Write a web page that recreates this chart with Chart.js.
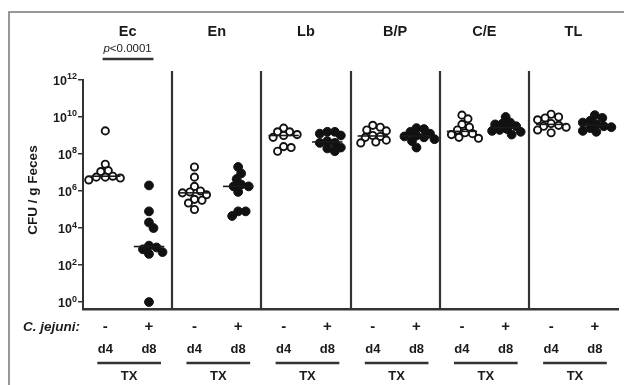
<!DOCTYPE html>
<html>
<head>
<meta charset="utf-8">
<script src="https://cdn.jsdelivr.net/npm/chart.js@4.4.1/dist/chart.umd.min.js"></script>
<style>
  html, body { margin: 0; padding: 0; background: #fff; }
  #wrap { width: 624px; height: 385px; }
</style>
</head>
<body>
<div id="wrap"><canvas id="cfuChart" width="624" height="385"></canvas></div>
<script>
// Bacterial groups, one panel each
const panels = ['Ec', 'En', 'Lb', 'B/P', 'C/E', 'TL'];

// log10 CFU / g feces
// d4 = before C. jejuni (open), d8 = after C. jejuni (filled)
const ecD4 = [9.25, 7.45, 7.1, 7.05, 6.8, 6.75, 6.75, 6.7, 6.6];
const ecD8 = [6.3, 4.9, 4.3, 4.0, 3.05, 2.95, 2.85, 2.7, 2.6, 0];
const enD4 = [7.3, 6.75, 6.25, 6.0, 5.95, 5.9, 5.8, 5.55, 5.5, 5.35, 5.0];
const enD8 = [7.3, 6.95, 6.65, 6.35, 6.25, 6.25, 5.95, 4.9, 4.9, 4.65];
const lbD4 = [9.4, 9.2, 9.2, 9.05, 9.0, 8.9, 8.4, 8.35, 8.15];
const lbD8 = [9.2, 9.2, 9.1, 9.0, 8.7, 8.6, 8.6, 8.35, 8.3, 8.15];
const bpD4 = [9.55, 9.45, 9.3, 9.25, 9.0, 8.95, 8.9, 8.75, 8.65, 8.6];
const bpD8 = [9.4, 9.35, 9.2, 9.1, 9.0, 8.95, 8.9, 8.8, 8.7, 8.35];
const ceD4 = [10.1, 9.9, 9.6, 9.45, 9.3, 9.15, 9.1, 9.05, 8.9, 8.85];
const ceD8 = [10.0, 9.7, 9.65, 9.6, 9.5, 9.35, 9.3, 9.25, 9.2, 9.05];
const tlD4 = [10.15, 10.0, 9.95, 9.85, 9.65, 9.55, 9.5, 9.45, 9.3, 9.15];
const tlD8 = [10.1, 9.95, 9.8, 9.7, 9.6, 9.5, 9.45, 9.4, 9.25, 9.2];

const d4Groups = [ecD4, enD4, lbD4, bpD4, ceD4, tlD4];
const d8Groups = [ecD8, enD8, lbD8, bpD8, ceD8, tlD8];

// Axis / label text
const yTickExponents = [0, 2, 4, 6, 8, 10, 12];
const infectionSigns = ['-', '+'];
const dayLabels = ['d4', 'd8'];
const treatmentLabel = 'TX';
const pValueText = '<0.0001';

const FONT = '"Liberation Sans", Arial, sans-serif';
const INK = '#1a1a1a';

// Rough pixel scale, only used to spread overlapping dots (beeswarm)
const PX_PER_PANEL = 89;
const PX_PER_DECADE = 18.5;
const DOT_GAP = 7;

function median(values) {
    const s = values.slice().sort((a, b) => a - b);
    const m = Math.floor(s.length / 2);
    return s.length % 2 ? s[m] : (s[m - 1] + s[m]) / 2;
}

// Spread points sideways so they don't sit on top of each other
function swarm(values, center) {
    const placed = [];
    const sorted = values.slice().sort((a, b) => b - a);
    return sorted.map(v => {
        const py = v * PX_PER_DECADE;
        let off = 0;
        for (let k = 0; k < 60; k++) {
            const cand = k === 0 ? 0 : (k % 2 ? 1 : -1) * Math.ceil(k / 2) * 1.5;
            const clash = placed.some(p => {
                const dx = p.px - cand, dy = p.py - py;
                return dx * dx + dy * dy < DOT_GAP * DOT_GAP;
            });
            if (!clash) { off = cand; break; }
        }
        placed.push({ px: off, py });
        return { x: center + off / PX_PER_PANEL, y: Math.pow(10, v) };
    });
}

const COL_OFFSET = [0.25, 0.74];

const datasets = [];
panels.forEach((name, i) => {
    [d4Groups[i], d8Groups[i]].forEach((vals, j) => {
        const c = i + COL_OFFSET[j];
        const m = Math.pow(10, median(vals));
        datasets.push({
            type: 'line',
            data: [{ x: c - 0.17, y: m }, { x: c + 0.17, y: m }],
            borderColor: INK,
            borderWidth: 1.6,
            pointRadius: 0,
            order: 0
        });
        datasets.push({
            type: 'scatter',
            data: swarm(vals, c),
            pointStyle: 'circle',
            pointRadius: j === 0 ? 3.6 : 4.4,
            backgroundColor: j === 0 ? '#fff' : '#111',
            borderColor: '#111',
            borderWidth: j === 0 ? 1.9 : 1,
            order: 1
        });
    });
});

// Frame, panel dividers and all the text around the plot
const decorations = {
    id: 'decorations',
    afterDraw(chart) {
        const { ctx, chartArea, scales } = chart;
        const xs = scales.x, ys = scales.y;
        ctx.save();

        // outer frame (top + left only, rest is cropped)
        ctx.strokeStyle = '#777';
        ctx.lineWidth = 1.5;
        ctx.beginPath();
        ctx.moveTo(9, 385);
        ctx.lineTo(9, 12);
        ctx.lineTo(624, 12);
        ctx.stroke();

        // panel separators
        ctx.strokeStyle = '#333';
        ctx.lineWidth = 2.2;
        for (let i = 1; i < panels.length; i++) {
            const x = Math.round(xs.getPixelForValue(i));
            ctx.beginPath();
            ctx.moveTo(x, chartArea.top - 9);
            ctx.lineTo(x, chartArea.bottom);
            ctx.stroke();
        }

        ctx.fillStyle = INK;
        ctx.textAlign = 'center';
        ctx.textBaseline = 'middle';

        // panel titles
        ctx.font = `bold 14.5px ${FONT}`;
        panels.forEach((name, i) => {
            ctx.fillText(name, xs.getPixelForValue(i + 0.5), 32);
        });

        // p value over Ec
        const ecMid = xs.getPixelForValue(0.5);
        ctx.font = `italic 11.5px ${FONT}`;
        const pW = ctx.measureText('p').width;
        ctx.font = `11.5px ${FONT}`;
        const restW = ctx.measureText(pValueText).width;
        const px = ecMid - (pW + restW) / 2;
        ctx.textAlign = 'left';
        ctx.font = `italic 11.5px ${FONT}`;
        ctx.fillText('p', px, 49);
        ctx.font = `11.5px ${FONT}`;
        ctx.fillText(pValueText, px + pW, 49);
        ctx.strokeStyle = '#333';
        ctx.lineWidth = 2.5;
        ctx.beginPath();
        ctx.moveTo(xs.getPixelForValue(0.22), 59);
        ctx.lineTo(xs.getPixelForValue(0.79), 59);
        ctx.stroke();

        // y tick labels 10^n
        yTickExponents.forEach(e => {
            const y = ys.getPixelForValue(Math.pow(10, e));
            const sup = String(e);
            ctx.font = `bold 9px ${FONT}`;
            const supW = ctx.measureText(sup).width;
            const right = chartArea.left - 6;
            ctx.textAlign = 'right';
            ctx.fillText(sup, right, y - 3);
            ctx.font = `bold 12.5px ${FONT}`;
            ctx.fillText('10', right - supW, y + 2);
        });

        // y axis title
        ctx.save();
        ctx.translate(33, 190);
        ctx.rotate(-Math.PI / 2);
        ctx.textAlign = 'center';
        ctx.font = `bold 13.5px ${FONT}`;
        ctx.fillText('CFU / g Feces', 0, 0);
        ctx.restore();

        // bottom labels
        ctx.textAlign = 'right';
        ctx.font = `italic bold 13.5px ${FONT}`;
        ctx.fillText('C. jejuni:', 80, 327);
        ctx.textAlign = 'center';
        panels.forEach((name, i) => {
            COL_OFFSET.forEach((off, j) => {
                const x = xs.getPixelForValue(i + off);
                ctx.font = `bold 15px ${FONT}`;
                ctx.fillText(infectionSigns[j], x, 327);
                ctx.font = `bold 13px ${FONT}`;
                ctx.fillText(dayLabels[j], x, 349);
            });
            const a = xs.getPixelForValue(i + COL_OFFSET[0]) - 8;
            const b = xs.getPixelForValue(i + COL_OFFSET[1]) + 12;
            ctx.strokeStyle = '#333';
            ctx.lineWidth = 2.5;
            ctx.beginPath();
            ctx.moveTo(a, 363);
            ctx.lineTo(b, 363);
            ctx.stroke();
            ctx.font = `bold 13px ${FONT}`;
            ctx.fillText(treatmentLabel, (a + b) / 2, 376);
        });

        ctx.restore();
    }
};

const ctx = document.getElementById('cfuChart').getContext('2d');
new Chart(ctx, {
    type: 'scatter',
    data: { datasets },
    options: {
        responsive: false,
        animation: false,
        layout: { padding: { left: 78, right: 6, top: 80, bottom: 0 } },
        plugins: {
            legend: { display: false },
            tooltip: { enabled: false }
        },
        scales: {
            x: {
                type: 'linear',
                min: 0,
                max: 6,
                grid: { display: false, drawTicks: false },
                ticks: { display: false },
                border: { display: true, color: '#333', width: 2.5 },
                afterFit: (scale) => { scale.height = 76; }
            },
            y: {
                type: 'logarithmic',
                min: 0.42,
                max: 1e12,
                afterBuildTicks: (scale) => {
                    scale.ticks = yTickExponents.map(e => ({ value: Math.pow(10, e) }));
                },
                grid: { drawOnChartArea: false, drawTicks: true, tickLength: 5, color: '#333', lineWidth: 1.5 },
                ticks: { display: false },
                border: { display: true, color: '#333', width: 2 },
                afterFit: (scale) => { scale.width = 5; }
            }
        }
    },
    plugins: [decorations]
});
</script>
</body>
</html>
